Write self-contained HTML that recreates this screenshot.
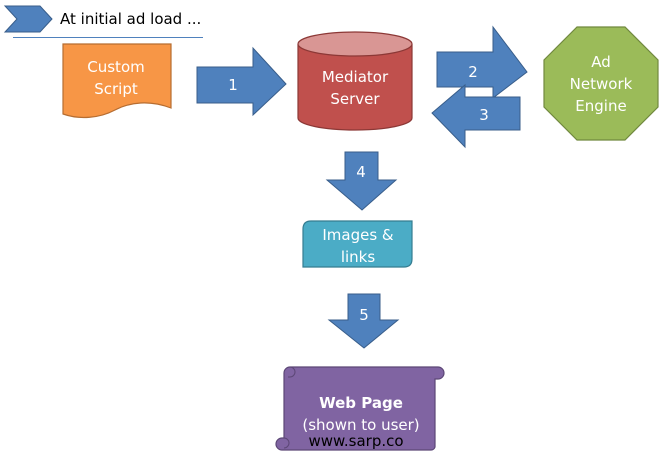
<!DOCTYPE html>
<html><head><meta charset="utf-8"><style>
html,body{margin:0;padding:0;background:#fff;width:671px;height:462px;overflow:hidden}
svg text{font-family:"DejaVu Sans","Liberation Sans",sans-serif}
</style></head><body>
<svg width="671" height="462" viewBox="0 0 671 462" xmlns="http://www.w3.org/2000/svg">
<!-- chevron -->
<polygon points="5,6 40,6 52,19 40,32 5,32 17,19" fill="#4f81bd" stroke="#385d8a" stroke-width="1"/>
<text x="60" y="24" font-size="15" fill="#000">At initial ad load ...</text>
<line x1="13" y1="37.5" x2="203" y2="37.5" stroke="#4f81bd" stroke-width="1"/>
<!-- custom script -->
<path d="M63,44 L171,44 L171,108 C150,100 130,102 115,110 C100,118 80,120 63,114 Z" fill="#f79646" stroke="#b66d31" stroke-width="1.2"/>
<text x="116" y="72" font-size="15" fill="#fff" text-anchor="middle">Custom</text>
<text x="116" y="94" font-size="15" fill="#fff" text-anchor="middle">Script</text>
<!-- arrow 1 -->
<polygon points="197,67 253,67 253,48 286,84 253,115 253,103 197,103" fill="#4f81bd" stroke="#385d8a" stroke-width="1"/>
<text x="233" y="90" font-size="15" fill="#fff" text-anchor="middle">1</text>
<!-- cylinder -->
<path d="M298,44 L298,118 A57,12 0 0 0 412,118 L412,44" fill="#c0504d" stroke="#8c3836" stroke-width="1.2"/>
<ellipse cx="355" cy="44" rx="57" ry="12" fill="#d99694" stroke="#8c3836" stroke-width="1.2"/>
<text x="355" y="82" font-size="15" fill="#fff" text-anchor="middle">Mediator</text>
<text x="355" y="104" font-size="15" fill="#fff" text-anchor="middle">Server</text>
<!-- arrow 2 -->
<polygon points="437,52 493,52 493,27 527,72 493,98 493,87 437,87" fill="#4f81bd" stroke="#385d8a" stroke-width="1"/>
<text x="473" y="77" font-size="15" fill="#fff" text-anchor="middle">2</text>
<!-- arrow 3 -->
<polygon points="520,97 465,97 465,85 432,113 465,147 465,130 520,130" fill="#4f81bd" stroke="#385d8a" stroke-width="1"/>
<text x="484" y="120" font-size="15" fill="#fff" text-anchor="middle">3</text>
<!-- octagon -->
<polygon points="577,27 625,27 658,60 658,107 625,140 577,140 544,107 544,60" fill="#9bbb59" stroke="#71893f" stroke-width="1.2"/>
<text x="601" y="67" font-size="15" fill="#fff" text-anchor="middle">Ad</text>
<text x="601" y="89" font-size="15" fill="#fff" text-anchor="middle">Network</text>
<text x="601" y="111" font-size="15" fill="#fff" text-anchor="middle">Engine</text>
<!-- arrow 4 -->
<polygon points="345,152 378,152 378,180 396,180 362,210 327,180 345,180" fill="#4f81bd" stroke="#385d8a" stroke-width="1"/>
<text x="361" y="177" font-size="15" fill="#fff" text-anchor="middle">4</text>
<!-- images & links -->
<path d="M311,221 L412,221 L412,259 Q412,267 404,267 L303,267 L303,229 Q303,221 311,221 Z" fill="#4bacc6" stroke="#357d91" stroke-width="1.2"/>
<text x="358" y="240" font-size="15" fill="#fff" text-anchor="middle">Images &amp;</text>
<text x="358" y="262" font-size="15" fill="#fff" text-anchor="middle">links</text>
<!-- arrow 5 -->
<polygon points="348,294 380,294 380,320 398,320 364,348 329,320 348,320" fill="#4f81bd" stroke="#385d8a" stroke-width="1"/>
<text x="364" y="320" font-size="15" fill="#fff" text-anchor="middle">5</text>
<!-- scroll -->
<path d="M290,367 L438,367 A6,6 0 0 1 438,379 L435,379 L435,447 A4,4 0 0 1 431,450 L282,450 A6,6 0 0 1 282,438 L284,438 L284,373 A6,6 0 0 1 290,367 Z" fill="#8064a2" stroke="#5c4776" stroke-width="1.2"/>
<path d="M290,367 A5,5 0 0 1 290,377 L288,377 M284,438 A5,5 0 0 1 284,448" fill="none" stroke="#5c4776" stroke-width="1"/>
<text x="361" y="408" font-size="15" font-weight="bold" fill="#fff" text-anchor="middle">Web Page</text>
<text x="361" y="430" font-size="15" fill="#fff" text-anchor="middle">(shown to user)</text>
<text x="356" y="446" font-size="15" fill="#000" text-anchor="middle">www.sarp.co</text>
</svg>
</body></html>
